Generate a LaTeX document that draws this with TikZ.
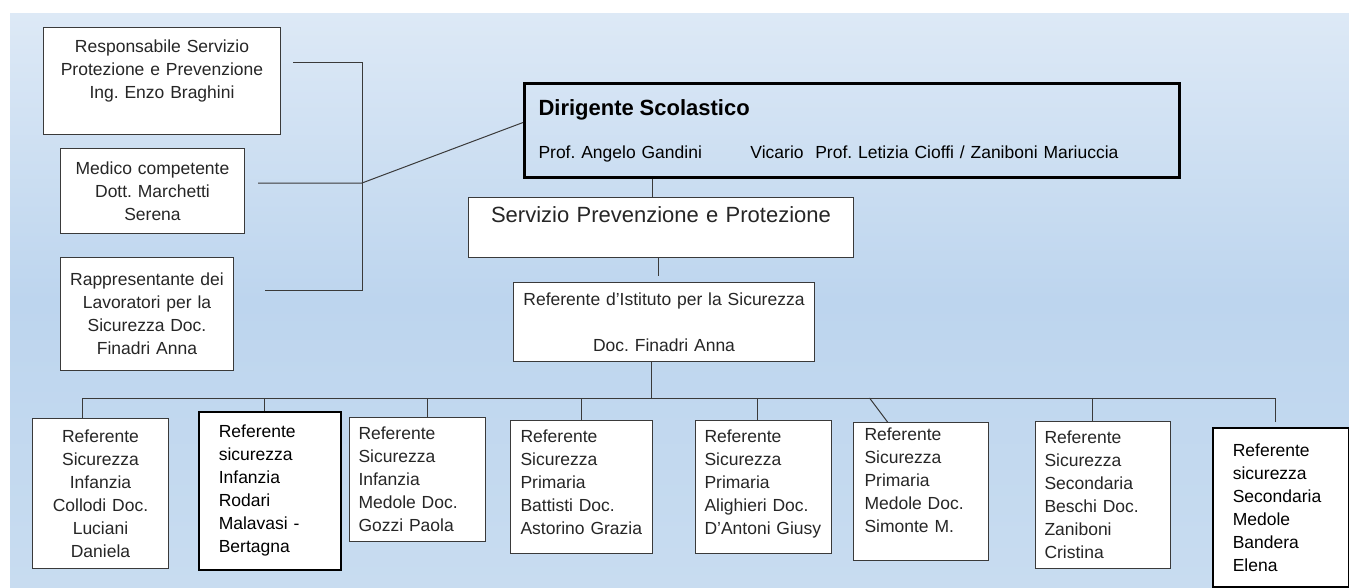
\documentclass[tikz,border=0pt]{standalone}
\usepackage{fontspec}
\setmainfont{Liberation Sans}
\usetikzlibrary{positioning,calc}
\frenchspacing

\definecolor{bgtop}{HTML}{DDE9F6}
\definecolor{bgmid}{HTML}{BDD5EE}
\definecolor{bgbot}{HTML}{C8DCF0}
\definecolor{linegray}{HTML}{3A3A3A}
\definecolor{textgray}{HTML}{262626}

\newcommand{\bodysize}{\fontsize{17.5}{23}\selectfont}
\newcommand{\bigsize}{\fontsize{22}{26}\selectfont}

\tikzset{
  box/.style={draw=linegray, line width=1pt, fill=white, anchor=north west,
    inner ysep=0pt, text=textgray, font=\bodysize},
  cbox/.style={box, align=center},
  lbox/.style={box, align=left},
  kbox/.style={lbox, draw=black, line width=1.6pt, text=black},
  conn/.style={draw=linegray, line width=1pt}
}

\begin{document}
\begin{tikzpicture}[x=1pt,y=-1pt]
  % sfondo
  \useasboundingbox (0,0) rectangle (1349,587);
  \fill[white] (0,0) rectangle (1349,587);
  \fill[top color=bgtop, bottom color=bgbot, middle color=bgmid] (10,13) rectangle (1349,587);

  % riquadri a sinistra
  \node[cbox, text width=220pt, inner xsep=8.5pt, minimum height=107pt] (rspp) at (43,27)
    {Responsabile Servizio\\Protezione e Prevenzione\\Ing. Enzo Braghini\\ \mbox{}};
  \node[cbox, text width=168pt, inner xsep=8pt, minimum height=85pt] (med) at (60,148)
    {Medico competente\\Dott. Marchetti\\Serena};
  \node[cbox, text width=159pt, inner xsep=7pt, minimum height=113pt] (rls) at (60,257)
    {Rappresentante dei\\Lavoratori per la\\Sicurezza Doc.\\Finadri Anna};

  % dirigente
  \node[lbox, draw=black, line width=3pt, text=black, text width=627pt, inner xsep=14pt,
    minimum height=94pt, fill=none] (dir) at (523,82)
    {{\bigsize\bfseries Dirigente Scolastico}\\[20pt]%
     \makebox[212pt][l]{Prof. Angelo Gandini}Vicario\ \ Prof. Letizia Cioffi / Zaniboni Mariuccia};

  % servizio e referente d'istituto
  \node[cbox, text width=369pt, inner xsep=8pt, minimum height=60pt, font=\bigsize] (serv) at (468,197)
    {Servizio Prevenzione e Protezione\\ \mbox{}};
  \node[cbox, text width=285pt, inner xsep=8pt, minimum height=79pt] (ist) at (513,282)
    {Referente d’Istituto per la Sicurezza\\ \mbox{}\\Doc. Finadri Anna};

  % referenti dei plessi
  \node[cbox, text width=120pt, inner xsep=8pt, minimum height=150pt] (b1) at (32,418)
    {Referente\\Sicurezza\\Infanzia\\Collodi Doc.\\Luciani\\Daniela};
  \node[kbox, text width=102pt, inner xsep=20pt, minimum height=158pt] (b2) at (198,411)
    {Referente\\sicurezza\\Infanzia\\Rodari\\Malavasi -\\Bertagna};
  \node[lbox, text width=118pt, inner xsep=9pt, minimum height=124pt] (b3) at (349,417)
    {Referente\\Sicurezza\\Infanzia\\Medole Doc.\\Gozzi Paola};
  \node[lbox, text width=122pt, inner xsep=10pt, minimum height=133pt] (b4) at (510,420)
    {Referente\\Sicurezza\\Primaria\\Battisti Doc.\\Astorino Grazia\\[-14pt]\mbox{}};
  \node[lbox, text width=118pt, inner xsep=9pt, minimum height=133pt] (b5) at (695,420)
    {Referente\\Sicurezza\\Primaria\\Alighieri Doc.\\D’Antoni Giusy\\[-14pt]\mbox{}};
  \node[lbox, text width=113pt, inner xsep=11pt, minimum height=138pt] (b6) at (853,422)
    {Referente\\Sicurezza\\Primaria\\Medole Doc.\\Simonte M.\\ \mbox{}};
  \node[lbox, text width=117pt, inner xsep=9pt, minimum height=147pt] (b7) at (1035,421)
    {Referente\\Sicurezza\\Secondaria\\Beschi Doc.\\Zaniboni\\Cristina};
  \node[kbox, text width=96pt, inner xsep=20pt, minimum height=159pt] (b8) at (1212,427)
    {Referente\\sicurezza\\Secondaria\\Medole\\Bandera\\Elena};

  % collegamenti a sinistra
  \coordinate (spT) at (362,62);
  \coordinate (spB) at (362,290);
  \coordinate (j) at (362,183);
  \draw[conn] ([xshift=12pt]rspp.east |- spT) -- (spT) -- (spB) -- ([xshift=31pt]rls.east |- spB);
  \draw[conn] ([xshift=13pt]med.east |- j) -- (j) -- ([yshift=8pt]dir.west);

  % linea centrale
  \draw[conn] ([xshift=-9pt]serv.north) -- ([xshift=-9pt]serv.north |- dir.south);
  \draw[conn] ([xshift=-2.5pt]serv.south) -- ++(0,18);
  \coordinate (bus) at (0,398);
  \draw[conn] ([xshift=-12.5pt]ist.south) -- ([xshift=-12.5pt]ist.south |- bus);

  % barra orizzontale e discese
  \draw[conn] ([xshift=-18pt]b1.north |- bus) -- ([xshift=-5pt]b8.north |- bus);
  \foreach \b/\dx in {b1/-18, b2/-5, b3/10, b4/0, b5/-6, b7/-11}
    \draw[conn] ([xshift=\dx pt]\b.north) -- ([xshift=\dx pt]\b.north |- bus);
  \draw[conn] ([xshift=-33.5pt]b6.north) -- ([xshift=-51.5pt]b6.north |- bus);
  \draw[conn] ([xshift=-5pt,yshift=5pt]b8.north) -- ([xshift=-5pt]b8.north |- bus);
\end{tikzpicture}
\end{document}
